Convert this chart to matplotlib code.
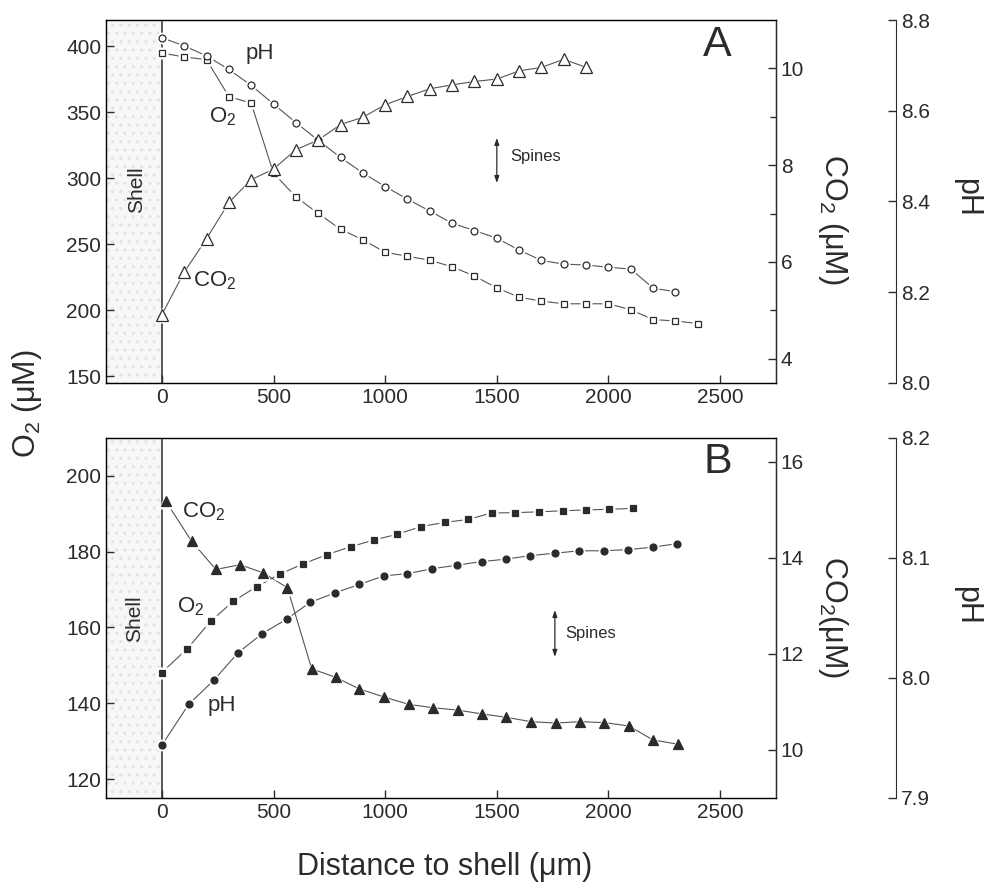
import numpy as np
import matplotlib
matplotlib.use("Agg")
import matplotlib.pyplot as plt

plt.rcParams["font.family"] = "Liberation Sans"
plt.rcParams["mathtext.default"] = "regular"

# Panel A (open symbols)
xA_o2 = [0, 100, 200, 300, 400, 500, 600, 700, 800, 900, 1000, 1100, 1200,
         1300, 1400, 1500, 1600, 1700, 1800, 1900, 2000, 2100, 2200, 2300, 2400]
o2_A = [395, 392, 390, 362, 357, 304, 286, 273.5, 261.5, 253.5, 244, 241, 238,
        233, 226, 217, 210, 207, 205, 205, 205, 200.5, 193, 192, 190]
xA_ph = [0, 100, 200, 300, 400, 500, 600, 700, 800, 900, 1000, 1100, 1200,
         1300, 1400, 1500, 1600, 1700, 1800, 1900, 2000, 2100, 2200, 2300]
ph_A = [8.761, 8.743, 8.721, 8.691, 8.656, 8.615, 8.574, 8.535, 8.497, 8.463,
        8.433, 8.405, 8.379, 8.352, 8.336, 8.319, 8.293, 8.270, 8.262, 8.260,
        8.255, 8.251, 8.209, 8.201]
xA_co2 = [0, 100, 200, 300, 400, 500, 600, 700, 800, 900, 1000, 1100, 1200,
          1300, 1400, 1500, 1600, 1700, 1800, 1900]
co2_A = [4.91, 5.79, 6.48, 7.23, 7.70, 7.92, 8.32, 8.52, 8.84, 8.99, 9.25, 9.42,
         9.58, 9.66, 9.73, 9.78, 9.95, 10.02, 10.19, 10.02]

# Panel B (filled symbols)
xB_o2 = [0, 114, 218, 320, 425, 529, 634, 738, 846, 951, 1055, 1160, 1266,
         1371, 1477, 1583, 1690, 1795, 1900, 2004, 2111]
o2_B = [148.1, 154.4, 161.6, 166.9, 170.8, 174.1, 176.8, 179.2, 181.3, 183.1,
        184.6, 186.6, 187.7, 188.5, 190.2, 190.3, 190.5, 190.8, 191.0, 191.2, 191.4]
xB_ph = [0, 120, 232, 341, 450, 559, 664, 776, 885, 993, 1100, 1211, 1321,
         1432, 1541, 1650, 1762, 1870, 1979, 2088, 2199, 2308]
ph_B = [7.944, 7.978, 7.998, 8.021, 8.037, 8.049, 8.063, 8.071, 8.078, 8.085,
        8.087, 8.091, 8.094, 8.097, 8.099, 8.102, 8.104, 8.106, 8.106, 8.107,
        8.109, 8.112]
xB_co2 = [18, 133, 242, 350, 454, 562, 671, 780, 885, 997, 1106, 1214, 1326,
          1435, 1543, 1653, 1765, 1871, 1982, 2091, 2199, 2311]
co2_B = [15.18, 14.35, 13.76, 13.86, 13.69, 13.38, 11.69, 11.51, 11.27, 11.10,
         10.95, 10.88, 10.83, 10.75, 10.68, 10.59, 10.56, 10.59, 10.57, 10.50,
         10.21, 10.12]

ink = "#2b2b2b"
line_col = "#555555"


def series(ax, x, y, trans, marker, ms, filled):
    ax.plot(x, y, color=line_col, lw=0.8, transform=trans, zorder=2)
    # white halo so the connecting line stops short of each symbol
    ax.plot(x, y, ls="none", marker=marker, ms=ms + 3.5, mfc="white", mec="none",
            transform=trans, zorder=3)
    ax.plot(x, y, ls="none", marker=marker, ms=ms, mfc=ink if filled else "white",
            mec=ink, mew=0.9, transform=trans, zorder=4)


def panel(ax, o2_lim, o2_ticks, co2_lim, co2_ticks, ph_lim, ph_ticks, co2_label, co2_lab_y, ph_lab_y):
    ax.set_xlim(-250, 2750)
    ax.set_ylim(*o2_lim)
    ax.set_xticks([0, 500, 1000, 1500, 2000, 2500])
    ax.set_yticks(o2_ticks)
    ax.tick_params(direction="in", length=6, width=1, colors=ink, labelsize=15,
                   top=False, right=False)
    for sp in ax.spines.values():
        sp.set_color(ink)
        sp.set_linewidth(1.0)
    ax.axvspan(-250, 0, facecolor="#f7f7f7", edgecolor="#e2e2e2", hatch="..", lw=0, zorder=0)
    ax.axvline(0, color=ink, lw=1.1, zorder=1)

    ax2 = ax.twinx()
    ax2.set_ylim(*co2_lim)
    ax2.set_yticks(co2_ticks)
    ax2.tick_params(direction="in", length=6, width=1, colors=ink, labelsize=15)
    ax2.spines["right"].set_color(ink)
    ax2.set_ylabel(co2_label, fontsize=22, rotation=270, color=ink, va="center", ha="center")
    ax2.yaxis.set_label_coords(1.085, co2_lab_y)

    ax3 = ax.twinx()
    ax3.set_ylim(*ph_lim)
    ax3.set_yticks(ph_ticks)
    ax3.set_yticklabels(["%.1f" % t for t in ph_ticks])
    for sp in ax3.spines.values():
        sp.set_visible(False)
    ax3.spines["right"].set_visible(True)
    ax3.spines["right"].set_position(("axes", 1.179))
    ax3.spines["right"].set_color(ink)
    ax3.tick_params(direction="in", length=6, width=1, colors=ink, labelsize=15)
    ax3.set_ylabel("pH", fontsize=22, rotation=270, color=ink, va="center", ha="center")
    ax3.yaxis.set_label_coords(1.285, ph_lab_y)
    return ax2, ax3


fig = plt.figure(figsize=(9.89, 8.9), dpi=100)
axA = fig.add_axes([0.1072, 0.5697, 0.6774, 0.4078])
axB = fig.add_axes([0.1072, 0.1034, 0.6774, 0.4045])

# Panel A
a2, a3 = panel(axA, (145, 420), [150, 200, 250, 300, 350, 400], (3.5, 11), [4, 6, 8, 10],
               (8.0, 8.8), [8.0, 8.2, 8.4, 8.6, 8.8], "CO$_2$ (μM)", 0.45, 0.51)
a2.set_yticks([5, 7, 9], minor=True)
a2.tick_params(which="minor", direction="in", length=4, width=1, colors=ink)
series(axA, xA_o2, o2_A, axA.transData, "s", 4.5, False)
series(axA, xA_ph, ph_A, a3.transData, "o", 5, False)
series(axA, xA_co2, co2_A, a2.transData, "^", 8, False)

fr = axA.get_xaxis_transform()
axA.text(440, 0.908, "pH", transform=fr, fontsize=16, color=ink, ha="center", va="center")
axA.text(274, 0.735, "O$_2$", transform=fr, fontsize=16, color=ink, ha="center", va="center")
axA.text(236, 0.283, "CO$_2$", transform=fr, fontsize=16, color=ink, ha="center", va="center")
axA.text(-112, 0.533, "Shell", transform=fr, fontsize=15, color=ink, rotation=90,
         ha="center", va="center")
axA.annotate("", xy=(1500, 0.675), xytext=(1500, 0.551), xycoords=fr, textcoords=fr,
             arrowprops=dict(arrowstyle="<|-|>,head_length=0.4,head_width=0.14",
                             color=ink, lw=0.9, shrinkA=0, shrinkB=0))
axA.text(1560, 0.623, "Spines", transform=fr, fontsize=12, color=ink, ha="left", va="center")
axA.text(0.913, 0.93, "A", transform=axA.transAxes, fontsize=31, color=ink,
         ha="center", va="center")

# Panel B
b2, b3 = panel(axB, (115, 210), [120, 140, 160, 180, 200], (9, 16.5), [10, 12, 14, 16],
               (7.9, 8.2), [7.9, 8.0, 8.1, 8.2], "CO$_2$(μM)", 0.503, 0.536)
series(axB, xB_o2, o2_B, axB.transData, "s", 4.5, True)
series(axB, xB_ph, ph_B, b3.transData, "o", 5, True)
series(axB, xB_co2, co2_B, b2.transData, "^", 7.5, True)

fr = axB.get_xaxis_transform()
axB.text(188, 0.794, "CO$_2$", transform=fr, fontsize=16, color=ink, ha="center", va="center")
axB.text(130, 0.53, "O$_2$", transform=fr, fontsize=16, color=ink, ha="center", va="center")
axB.text(270, 0.256, "pH", transform=fr, fontsize=16, color=ink, ha="center", va="center")
axB.text(-123, 0.497, "Shell", transform=fr, fontsize=15, color=ink, rotation=90,
         ha="center", va="center")
axB.annotate("", xy=(1760, 0.522), xytext=(1760, 0.392), xycoords=fr, textcoords=fr,
             arrowprops=dict(arrowstyle="<|-|>,head_length=0.4,head_width=0.14",
                             color=ink, lw=0.9, shrinkA=0, shrinkB=0))
axB.text(1807, 0.458, "Spines", transform=fr, fontsize=12, color=ink, ha="left", va="center")
axB.text(0.913, 0.933, "B", transform=axB.transAxes, fontsize=31, color=ink,
         ha="center", va="center")

fig.text(0.0273, 0.546, "O$_2$ (μM)", fontsize=22, color=ink, rotation=90, ha="center", va="center")
fig.text(0.45, 0.026, "Distance to shell (μm)", fontsize=22, color=ink, ha="center", va="center")

fig.savefig("out.png", dpi=100)
